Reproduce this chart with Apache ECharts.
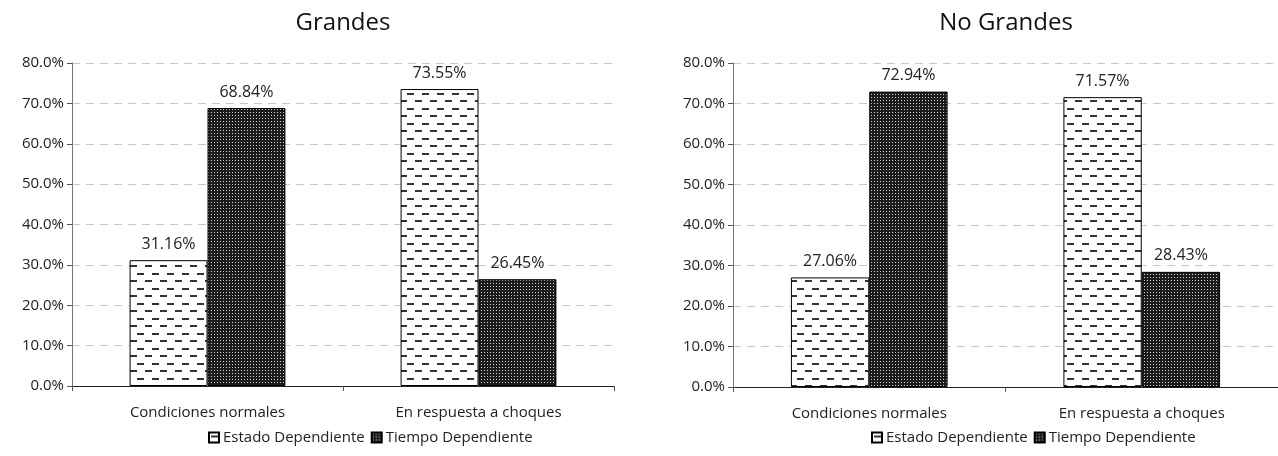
<!DOCTYPE html>
<html>
<head>
<meta charset="utf-8">
<script src="https://cdn.jsdelivr.net/npm/echarts@6/dist/echarts.min.js"></script>
<style>
html,body{margin:0;padding:0;background:#fff;}
#c{width:1278px;height:456px;}
</style>
</head>
<body>
<div id="c"></div>
<script>
var categories = ['Condiciones normales', 'En respuesta a choques'];
var seriesNames = ['Estado Dependiente', 'Tiempo Dependiente'];
var titles = ['Grandes', 'No Grandes'];
var grandesEstado = [31.16, 73.55];
var grandesTiempo = [68.84, 26.45];
var noGrandesEstado = [27.06, 71.57];
var noGrandesTiempo = [72.94, 28.43];
var yTicks = [0, 10, 20, 30, 40, 50, 60, 70, 80];

function dashPattern() {
  var c = document.createElement('canvas');
  c.width = 15; c.height = 15;
  var g = c.getContext('2d');
  g.fillStyle = '#ffffff'; g.fillRect(0, 0, 15, 15);
  g.fillStyle = '#333333';
  g.fillRect(2, 3, 7, 2);
  g.fillRect(10, 10, 5, 2);
  g.fillRect(0, 10, 2, 2);
  return c;
}
function dotPattern() {
  var c = document.createElement('canvas');
  c.width = 3; c.height = 3;
  var g = c.getContext('2d');
  g.fillStyle = '#1c1c1c'; g.fillRect(0, 0, 3, 3);
  g.fillStyle = '#d0d0d0';
  g.fillRect(1, 1, 1, 1);
  return c;
}
var pDash = { image: dashPattern(), repeat: 'repeat' };
var pDot = { image: dotPattern(), repeat: 'repeat' };

var FONT = 'Open Sans';
var chart = echarts.init(document.getElementById('c'), null, { renderer: 'canvas' });

function xAxis(i) {
  return {
    type: 'category', gridIndex: i, data: categories,
    axisLine: { lineStyle: { color: '#222', width: 1 } },
    axisTick: { show: true, alignWithLabel: false, length: 5, lineStyle: { color: '#555' } },
    axisLabel: { color: '#222', fontFamily: FONT, fontSize: 15, margin: 19 }
  };
}
function yAxis(i) {
  return {
    type: 'value', gridIndex: i, min: yTicks[0], max: yTicks[yTicks.length - 1], interval: 10,
    axisLine: { show: true, lineStyle: { color: '#777' } },
    axisTick: { show: true, length: 5, lineStyle: { color: '#555' } },
    axisLabel: { color: '#222', fontFamily: FONT, fontSize: 15, margin: 8,
      formatter: function (v) { return v.toFixed(1) + '%'; } },
    splitLine: { lineStyle: { color: '#c8c8c8', type: [8, 6] } }
  };
}
function bar(name, data, idx, pattern) {
  return {
    name: name, type: 'bar', xAxisIndex: idx, yAxisIndex: idx, data: data,
    barGap: '0%', barCategoryGap: '42.5%',
    itemStyle: { color: pattern, borderColor: '#000', borderWidth: 1 },
    label: { show: true, position: 'top', distance: 8, color: '#222', fontFamily: FONT, fontSize: 16,
      formatter: function (p) { return p.value.toFixed(2) + '%'; } }
  };
}
function legend(left) {
  return {
    data: seriesNames, left: left, top: 425, itemWidth: 10, itemHeight: 10, itemGap: 6,
    icon: 'rect', selectedMode: false,
    textStyle: { color: '#222', fontFamily: FONT, fontSize: 15, padding: [0, 0, 0, -1] }
  };
}

chart.setOption({
  animation: false,
  grid: [
    { left: 72, top: 63, width: 542, height: 323 },
    { left: 733, top: 63, width: 545, height: 324 }
  ],
  xAxis: [xAxis(0), xAxis(1)],
  yAxis: [yAxis(0), yAxis(1)],
  legend: [legend(203), legend(866)],
  graphic: [
    { type: 'text', x: 343, y: 23, style: { text: titles[0], fontFamily: FONT, fontSize: 24, fill: '#111', textAlign: 'center', textVerticalAlign: 'middle' } },
    { type: 'text', x: 1006, y: 23, style: { text: titles[1], fontFamily: FONT, fontSize: 24, fill: '#111', textAlign: 'center', textVerticalAlign: 'middle' } }
  ],
  series: [
    bar(seriesNames[0], grandesEstado, 0, pDash),
    bar(seriesNames[1], grandesTiempo, 0, pDot),
    bar(seriesNames[0], noGrandesEstado, 1, pDash),
    bar(seriesNames[1], noGrandesTiempo, 1, pDot)
  ]
});
</script>
</body>
</html>
